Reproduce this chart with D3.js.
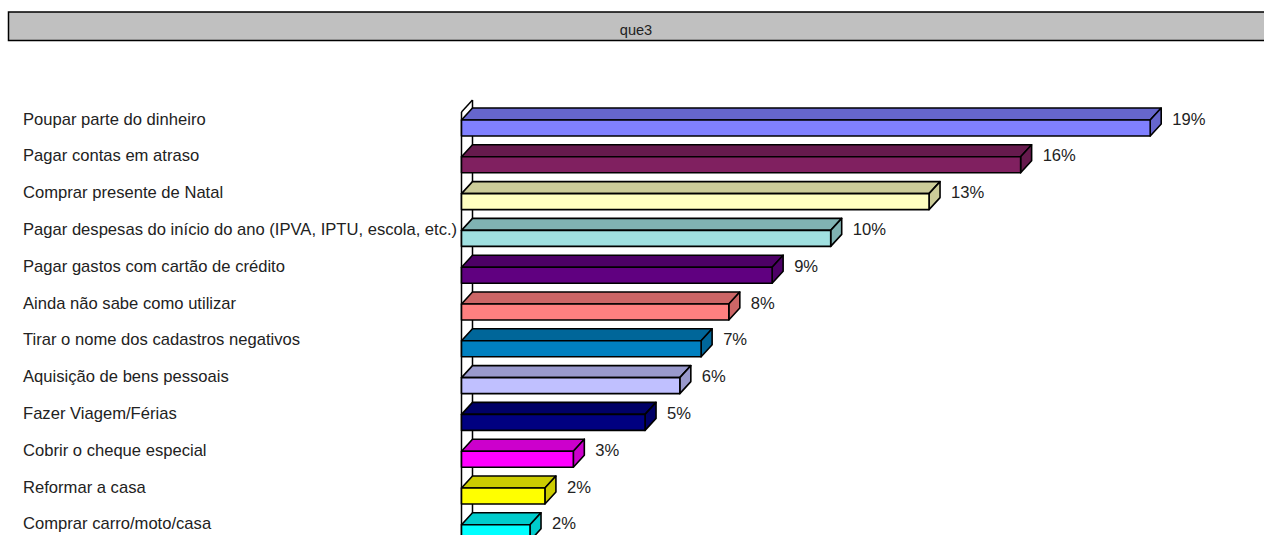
<!DOCTYPE html>
<html>
<head>
<meta charset="utf-8">
<script src="https://cdn.jsdelivr.net/npm/d3@7"></script>
<style>
  html, body { margin: 0; padding: 0; background: #fff; overflow: hidden; }
  text { font-family: "Liberation Sans", Arial, sans-serif; font-size: 16.6px; fill: #222; }
  .title { font-size: 14.6px; }
</style>
</head>
<body>
<svg id="chart" width="1264" height="535"></svg>
<script>
const title = 'que3';
const categories = [
  'Poupar parte do dinheiro',
  'Pagar contas em atraso',
  'Comprar presente de Natal',
  'Pagar despesas do início do ano (IPVA, IPTU, escola, etc.)',
  'Pagar gastos com cartão de crédito',
  'Ainda não sabe como utilizar',
  'Tirar o nome dos cadastros negativos',
  'Aquisição de bens pessoais',
  'Fazer Viagem/Férias',
  'Cobrir o cheque especial',
  'Reformar a casa',
  'Comprar carro/moto/casa',
];
const values = [19.4, 15.75, 13.17, 10.4, 8.75, 7.53, 6.75, 6.15, 5.17, 3.15, 2.35, 1.93];
const frontColors = ['#8080ff', '#802060', '#ffffc0', '#a0e0e0', '#600080', '#ff8080', '#0080c0', '#c0c0ff', '#000080', '#ff00ff', '#ffff00', '#00ffff'];
const topColors = ['#6666cc', '#661a4d', '#cccc99', '#80b3b3', '#4d0066', '#cc6666', '#006699', '#9999cc', '#000066', '#cc00cc', '#cccc00', '#00cccc'];

const svg = d3.select('#chart');
const depthX = 11;
const depthY = 12;
const barH = 16;

const x = d3.scaleLinear().domain([0, 20]).range([461.5, 1171.5]);
const y = d3.scalePoint().domain(categories).range([128, 532.8]);

// title strip
svg.append('rect')
  .attr('x', 8.5).attr('y', 12).attr('width', 1300).attr('height', 28.5)
  .attr('fill', '#c0c0c0').attr('stroke', '#000').attr('stroke-width', 1.5);
svg.append('text')
  .attr('class', 'title')
  .attr('x', 636).attr('y', 35)
  .attr('text-anchor', 'middle')
  .text(title);

// back wall of the 3d plot
const wall = svg.append('g').attr('fill', 'none').attr('stroke', '#000').attr('stroke-width', 1.5);
wall.append('line')
  .attr('x1', x(0)).attr('x2', x(0))
  .attr('y1', y(categories[0]) - barH / 2 - 8).attr('y2', 535);
wall.append('line')
  .attr('x1', x(0) + depthX).attr('x2', x(0) + depthX)
  .attr('y1', y(categories[0]) - barH / 2 - 8 - depthY).attr('y2', 535);
wall.append('line')
  .attr('x1', x(0)).attr('x2', x(0) + depthX)
  .attr('y1', y(categories[0]) - barH / 2 - 8).attr('y2', y(categories[0]) - barH / 2 - 8 - depthY);

categories.forEach((cat, i) => {
  const x1 = x(values[i]);
  const x0 = x(0);
  const top = y(cat) - barH / 2;
  const bottom = top + barH;
  const g = svg.append('g').attr('stroke', '#000').attr('stroke-width', 1.6).attr('stroke-linejoin', 'round');

  const topPath = d3.path();
  topPath.moveTo(x0, top);
  topPath.lineTo(x0 + depthX, top - depthY);
  topPath.lineTo(x1 + depthX, top - depthY);
  topPath.lineTo(x1, top);
  topPath.closePath();
  g.append('path').attr('d', topPath.toString()).attr('fill', topColors[i]);

  const sidePath = d3.path();
  sidePath.moveTo(x1, top);
  sidePath.lineTo(x1 + depthX, top - depthY);
  sidePath.lineTo(x1 + depthX, bottom - depthY);
  sidePath.lineTo(x1, bottom);
  sidePath.closePath();
  g.append('path').attr('d', sidePath.toString()).attr('fill', topColors[i]);

  g.append('rect')
    .attr('x', x0).attr('y', top)
    .attr('width', x1 - x0).attr('height', barH)
    .attr('fill', frontColors[i]);

  svg.append('text')
    .attr('x', 23).attr('y', y(cat) - 9 + 5.5)
    .text(cat);

  svg.append('text')
    .attr('x', x1 + depthX + 11).attr('y', y(cat) - 9 + 5.5)
    .text(d3.format('.0f')(values[i]) + '%');
});
</script>
</body>
</html>
